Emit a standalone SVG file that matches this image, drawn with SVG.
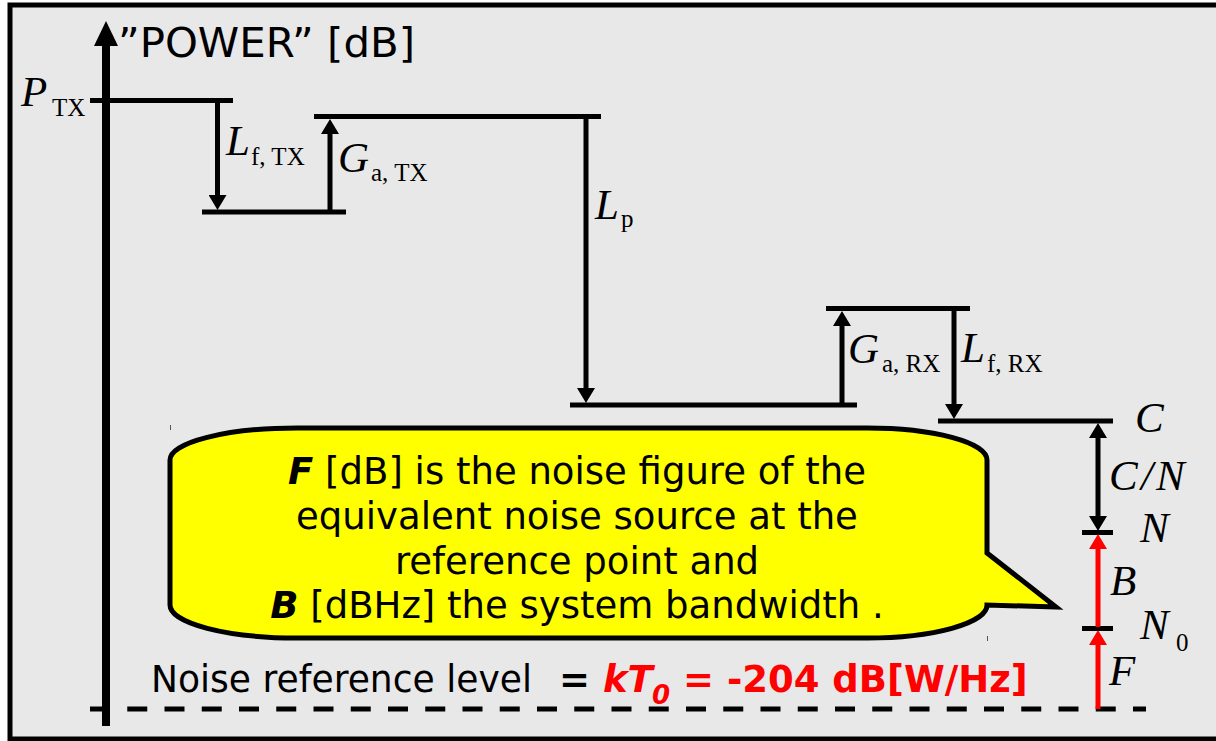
<svg xmlns="http://www.w3.org/2000/svg" width="1216" height="741" viewBox="0 0 1216 741">
<defs>
<style>
.lvl{stroke:#000;stroke-width:5;fill:none}
.shaft{stroke:#000;stroke-width:5;fill:none}
.red{stroke:#ff0000;stroke-width:5;fill:none}
.sym{font-family:"Liberation Serif","Times New Roman",serif;font-style:italic;font-size:43px;fill:#000}
.sub{font-family:"Liberation Serif","Times New Roman",serif;font-style:normal;font-size:25px;fill:#000}
.sans{font-family:"DejaVu Sans",Verdana,sans-serif;fill:#000}
</style>
<marker id="ah" markerUnits="userSpaceOnUse" markerWidth="15" markerHeight="18" viewBox="0 0 15 18" refX="0" refY="9" orient="auto">
<path d="M0,0 L15,9 L0,18 Z" fill="#000"/>
</marker>
<marker id="ahr" markerUnits="userSpaceOnUse" markerWidth="15" markerHeight="18" viewBox="0 0 15 18" refX="0" refY="9" orient="auto">
<path d="M0,0 L15,9 L0,18 Z" fill="#ff0000"/>
</marker>
<marker id="ahs" markerUnits="userSpaceOnUse" markerWidth="15" markerHeight="18" viewBox="0 0 15 18" refX="0" refY="9" orient="auto-start-reverse">
<path d="M0,0 L15,9 L0,18 Z" fill="#000"/>
</marker>
</defs>
<rect x="0" y="0" width="1216" height="741" fill="#ffffff"/>
<rect id="frame" x="10" y="5" width="1220" height="734" fill="#e8e8e8" stroke="#000" stroke-width="5"/>

<g id="axis">
<line x1="106" y1="44" x2="106" y2="726" stroke="#000" stroke-width="8"/>
<polygon points="106,21 118,46 94,46" fill="#000"/>
<text class="sans" x="118" y="57" font-size="40" textLength="297" lengthAdjust="spacingAndGlyphs">”POWER” [dB]</text>
</g>

<g id="levels">
<line class="lvl" x1="90" y1="100.5" x2="233" y2="100.5"/>
<line class="lvl" x1="202" y1="212" x2="346" y2="212"/>
<line class="lvl" x1="314" y1="116.5" x2="601" y2="116.5"/>
<line class="lvl" x1="570" y1="405" x2="857" y2="405"/>
<line class="lvl" x1="826" y1="308.5" x2="970" y2="308.5"/>
<line class="lvl" x1="938" y1="421" x2="1113" y2="421"/>
<line class="lvl" x1="1082" y1="532.5" x2="1113" y2="532.5"/>
<line class="lvl" x1="1082" y1="628.5" x2="1113" y2="628.5"/>
<line id="noise-ref" x1="90" y1="709" x2="1146" y2="709" stroke="#000" stroke-width="5" stroke-dasharray="20 17.25"/>
</g>

<g id="connectors">
<line class="shaft" x1="217.5" y1="103" x2="217.5" y2="195" marker-end="url(#ah)"/>
<line class="shaft" x1="330" y1="210" x2="330" y2="134" marker-end="url(#ah)"/>
<line class="shaft" x1="586" y1="119" x2="586" y2="388" marker-end="url(#ah)"/>
<line class="shaft" x1="842" y1="403" x2="842" y2="326" marker-end="url(#ah)"/>
<line class="shaft" x1="954" y1="311" x2="954" y2="404" marker-end="url(#ah)"/>
<line class="shaft" x1="1098" y1="438" x2="1098" y2="516" marker-start="url(#ahs)" marker-end="url(#ah)"/>
<line class="red" x1="1098" y1="627" x2="1098" y2="549" marker-end="url(#ahr)"/>
<line class="red" x1="1098" y1="709" x2="1098" y2="645" marker-end="url(#ahr)"/>
</g>

<g id="labels">
<text class="sym" x="21" y="106">P</text><text class="sub" x="52" y="116">TX</text>
<text class="sym" x="226" y="155">L</text><text class="sub" x="251" y="165">f, TX</text>
<text class="sym" x="338" y="172">G</text><text class="sub" x="371" y="181">a, TX</text>
<text class="sym" x="595" y="219">L</text><text class="sub" x="621" y="227">p</text>
<text class="sym" x="848" y="363">G</text><text class="sub" x="882" y="372">a, RX</text>
<text class="sym" x="961" y="362">L</text><text class="sub" x="987" y="372">f, RX</text>
<text class="sym" x="1135" y="432">C</text>
<text class="sym" y="490"><tspan x="1109">C</tspan><tspan x="1141">/</tspan><tspan x="1156">N</tspan></text>
<text class="sym" x="1140" y="542">N</text>
<text class="sym" x="1110" y="595">B</text>
<text class="sym" x="1140" y="639">N</text><text class="sub" x="1176" y="651">0</text>
<text class="sym" x="1109" y="685">F</text>
</g>

<g id="callout">
<path d="M297,428 L867,428 A120,32 0 0 1 987,460 L987,553 L1056,607 L987,605 A120,33 0 0 1 867,638 L297,638 A127,33 0 0 1 170,605 L170,460 A127,32 0 0 1 297,428 Z" fill="#ffff00" stroke="#000" stroke-width="5" stroke-linejoin="miter"/>
<g class="sans" font-size="37" text-anchor="middle">
<text x="577" y="484"><tspan font-weight="bold" font-style="italic">F</tspan> [dB] is the noise figure of the</text>
<text x="577" y="529">equivalent noise source at the</text>
<text x="577" y="574">reference point and</text>
<text x="577" y="618"><tspan font-weight="bold" font-style="italic">B</tspan> [dBHz] the system bandwidth .</text>
</g>
<line x1="170.5" y1="425" x2="170.5" y2="430" stroke="#555" stroke-width="1"/>
<line x1="987.5" y1="636" x2="987.5" y2="641" stroke="#555" stroke-width="1"/>
</g>

<g id="noise-label" class="sans" font-size="37">
<text x="151" y="692" textLength="381" lengthAdjust="spacingAndGlyphs">Noise reference level</text>
<text x="559" y="692" font-weight="bold">=</text>
<text x="603" y="692" font-weight="bold" font-style="italic" fill="#ff0000">kT</text>
<text x="652" y="704" font-weight="bold" font-style="italic" font-size="26" fill="#ff0000">0</text>
<text x="683" y="692" font-weight="bold" fill="#ff0000">= -204 dB[W/Hz]</text>
</g>
</svg>
